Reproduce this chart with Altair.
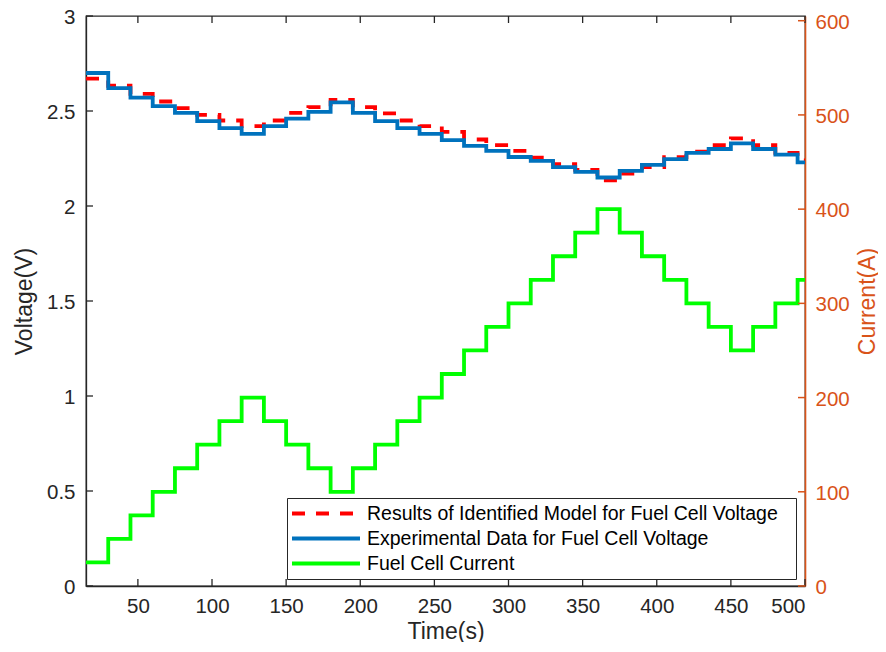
import altair as alt
import pandas as pd

FONT = "Liberation Sans, Arial, Helvetica, sans-serif"
AX = "#262626"
ORANGE = "#D95319"

# step start times (s); the last step runs to 500 s
times = [15, 30, 45, 60, 75, 90, 105, 120, 135, 150, 165, 180, 195, 210, 225, 240,
         255, 270, 285, 300, 315, 330, 345, 360, 375, 390, 405, 420, 435, 450, 465,
         480, 495]
t_end = 500

current = [25, 50, 75, 100, 125, 150, 175, 200, 175, 150, 125, 100, 125, 150, 175,
           200, 225, 250, 275, 300, 325, 350, 375, 400, 375, 350, 325, 300, 275, 250,
           275, 300, 325]

v_exp = [2.70, 2.62, 2.57, 2.526, 2.49, 2.447, 2.41, 2.38, 2.42, 2.46, 2.495, 2.545,
         2.49, 2.447, 2.41, 2.38, 2.347, 2.316, 2.29, 2.258, 2.237, 2.205, 2.18, 2.15,
         2.185, 2.216, 2.247, 2.28, 2.30, 2.33, 2.30, 2.27, 2.23]

v_model = [2.67, 2.633, 2.59, 2.55, 2.515, 2.48, 2.45, 2.42, 2.45, 2.49, 2.52, 2.558,
           2.52, 2.488, 2.45, 2.42, 2.39, 2.35, 2.32, 2.29, 2.255, 2.22, 2.19, 2.135,
           2.17, 2.205, 2.257, 2.286, 2.32, 2.356, 2.32, 2.28, 2.24]

names = ["Results of Identified Model for Fuel Cell Voltage",
         "Experimental Data for Fuel Cell Voltage",
         "Fuel Cell Current"]
colors = ["#FF0000", "#0072BD", "#00FF00"]
dashes = [[13, 11], [1, 0], [1, 0]]

x_ticks = [50, 100, 150, 200, 250, 300, 350, 400, 450, 500]
yl_ticks = [0, 0.5, 1, 1.5, 2, 2.5, 3]
yr_ticks = [0, 100, 200, 300, 400, 500, 600]

W, H = 719, 570


def step_frame(vals, name):
    return pd.DataFrame({"t": times + [t_end], "v": vals + [vals[-1]], "series": name})


df_model = step_frame(v_model, names[0])
df_exp = step_frame(v_exp, names[1])
df_cur = step_frame(current, names[2])

x_enc = alt.X("t:Q",
              scale=alt.Scale(domain=[15, 500], nice=False, zero=False),
              axis=alt.Axis(values=x_ticks, title="Time(s)", orient="bottom",
                            labelPadding=10, titleX=359.5, titleY=45,
                            titleBaseline="middle", titleAlign="center"))

yl_enc = alt.Y("v:Q",
               scale=alt.Scale(domain=[0, 3], nice=False, zero=False),
               axis=alt.Axis(values=yl_ticks, format=".1~f", title="Voltage(V)",
                             orient="left", labelPadding=11, labelOffset=1.5,
                             titleAngle=270, titleX=-62, titleY=285,
                             titleBaseline="middle", titleAlign="center"))

yr_enc = alt.Y("v:Q",
               scale=alt.Scale(domain=[0, 605], nice=False, zero=False),
               axis=alt.Axis(values=yr_ticks, title="Current(A)", orient="right",
                             labelPadding=10, labelOffset=1.5,
                             domainColor=ORANGE, labelColor=ORANGE,
                             titleColor=ORANGE, domainWidth=1.6,
                             titleAngle=270, titleX=62, titleY=285,
                             titleBaseline="middle", titleAlign="center"))

legend = alt.Legend(title=None, orient="none", legendX=201, legendY=482,
                    symbolType="stroke", symbolSize=4624, symbolStrokeWidth=4,
                    clipHeight=25, rowPadding=0, padding=3,
                    strokeColor=AX, fillColor="white", cornerRadius=0,
                    labelFont=FONT, labelFontSize=19.5, labelColor="#000000",
                    labelLimit=700, labelOffset=5,
                    labelExpr="datum.label + '\u2800'")

color_enc = alt.Color("series:N", scale=alt.Scale(domain=names, range=colors),
                      legend=legend)
dash_enc = alt.StrokeDash("series:N", scale=alt.Scale(domain=names, range=dashes),
                          legend=legend)

model_line = alt.Chart(df_model).mark_line(interpolate="step-after", strokeWidth=3.8).encode(
    x=x_enc, y=yl_enc, color=color_enc, strokeDash=dash_enc)
exp_line = alt.Chart(df_exp).mark_line(interpolate="step-after", strokeWidth=3.8).encode(
    x=x_enc, y=yl_enc, color=color_enc, strokeDash=dash_enc)
cur_line = alt.Chart(df_cur).mark_line(interpolate="step-after", strokeWidth=3.8).encode(
    x=x_enc, y=yr_enc, color=color_enc, strokeDash=dash_enc)

# inward tick marks (MATLAB style)
left_ticks = alt.Chart(pd.DataFrame({"v": yl_ticks})).mark_rule(
    color=AX, strokeWidth=1.3).encode(y=yl_enc, x=alt.value(0), x2=alt.value(7))
right_ticks = alt.Chart(pd.DataFrame({"v": yr_ticks})).mark_rule(
    color=ORANGE, strokeWidth=1.5).encode(y=yr_enc, x=alt.value(W - 7), x2=alt.value(W))
bottom_ticks = alt.Chart(pd.DataFrame({"t": x_ticks})).mark_rule(
    color=AX, strokeWidth=1.3).encode(x=x_enc, y=alt.value(H - 7), y2=alt.value(H))
top_ticks = alt.Chart(pd.DataFrame({"t": x_ticks})).mark_rule(
    color=AX, strokeWidth=1.3).encode(x=x_enc, y=alt.value(0), y2=alt.value(7))

left = alt.layer(model_line, exp_line, left_ticks, bottom_ticks, top_ticks)
right = alt.layer(cur_line, right_ticks)

chart = alt.layer(left, right).resolve_scale(y="independent").properties(
    width=W, height=H,
    padding={"left": 78, "top": 8, "right": 73, "bottom": 56},
    autosize=alt.AutoSizeParams(type="none"),
).configure_view(
    stroke=AX, strokeWidth=1.3
).configure_axis(
    labelFont=FONT, titleFont=FONT, labelFontSize=20.5, titleFontSize=23,
    titleFontWeight="normal", labelColor=AX, titleColor=AX, domainColor=AX,
    domainWidth=1.3, grid=False, ticks=False, tickSize=0
)

chart.save("out.html", embed_options={"renderer": "svg", "actions": False})
